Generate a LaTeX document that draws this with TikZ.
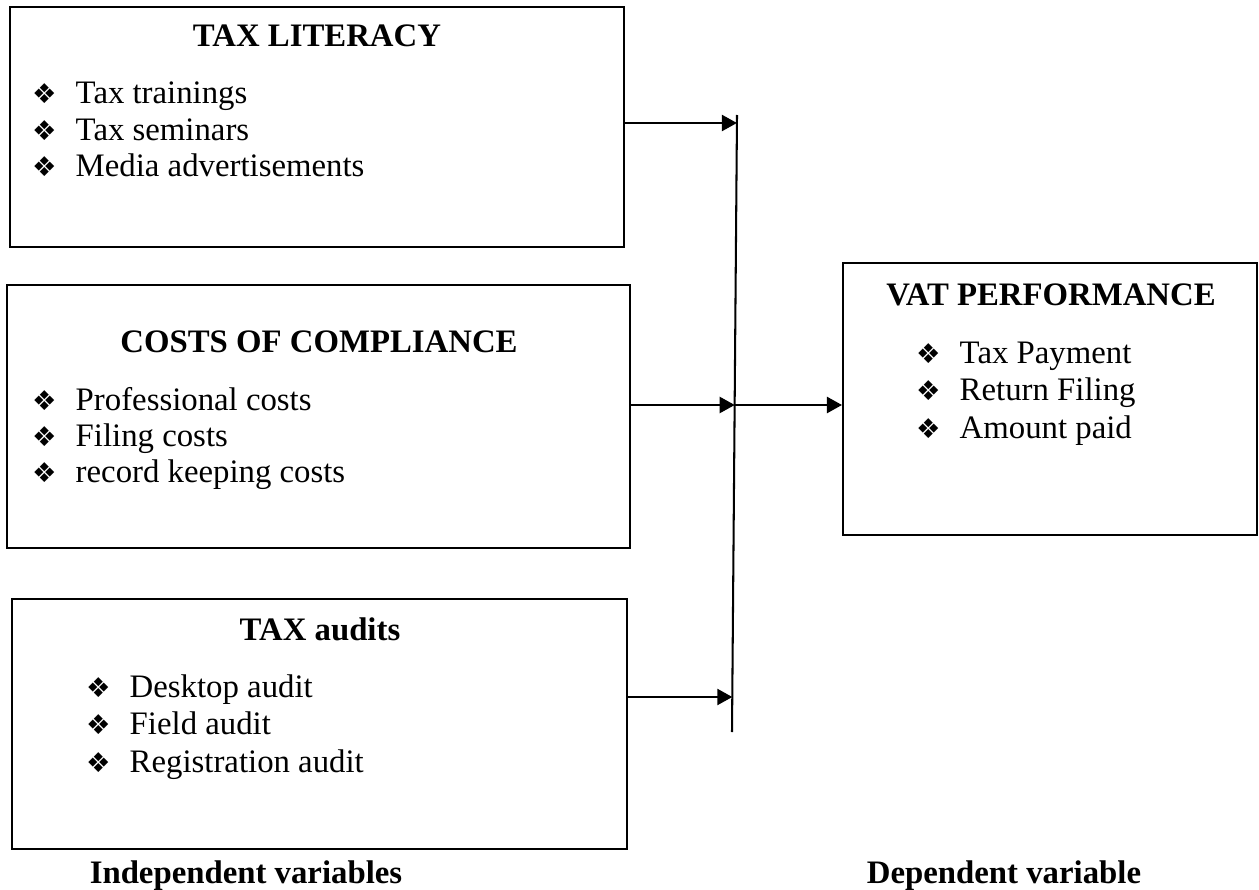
\documentclass[tikz,border=0pt]{standalone}
\usepackage{fontspec}
\setmainfont{Liberation Serif}
\newfontfamily\dingfont{DejaVu Sans}
\usetikzlibrary{arrows.meta,fit}
\newcommand{\diam}{\makebox[16pt][l]{\fontsize{10}{12}\dingfont ❖}}
\tikzstyle{var box}=[
        draw = black,
        line width = 0.75pt,
        inner sep = 0pt
    ]
\tikzstyle{heading}=[
    font = \bfseries\fontsize{12}{14}\selectfont,
    inner sep = 0pt,
    anchor = base
]
\tikzstyle{entry}=[
    font = \fontsize{12}{14}\selectfont,
    inner sep = 0pt,
    anchor = base west
]

\begin{document}
\begin{tikzpicture}[x=0.366pt, y=-0.366pt, line width=0.75pt, conn/.style = {-{Triangle[length=5.5pt,width=5.9pt]}}]
        \useasboundingbox (0,0) rectangle (1259,890);

        \node[var box, fit={(10,7) (624,247)}] (lit) {};
        \node[heading] (littitle) at (317,47) {TAX LITERACY};
        \node[entry] (lit1) at (31,104) {\diam Tax trainings};
        \node[entry] (lit2) at (31,141) {\diam Tax seminars};
        \node[entry] (lit3) at (31,177) {\diam Media advertisements};

        \node[var box, fit={(7,285) (630,548)}] (comp) {};
        \node[heading] (comptitle) at (319,352) {COSTS OF COMPLIANCE};
        \node[entry] (comp1) at (31,410) {\diam Professional costs};
        \node[entry] (comp2) at (31,446) {\diam Filing costs};
        \node[entry] (comp3) at (31,482) {\diam record keeping costs};

        \node[var box, fit={(12,599) (627,849)}] (aud) {};
        \node[heading] (audtitle) at (320,640) {TAX audits};
        \node[entry] (aud1) at (85,697) {\diam Desktop audit};
        \node[entry] (aud2) at (85,734) {\diam Field audit};
        \node[entry] (aud3) at (85,772) {\diam Registration audit};

        \node[var box, fit={(843,263) (1257,535)}] (vat) {};
        \node[heading] (vattitle) at (1051,305) {VAT PERFORMANCE};
        \node[entry] (vat1) at (915,363) {\diam Tax Payment};
        \node[entry] (vat2) at (915,400) {\diam Return Filing};
        \node[entry] (vat3) at (915,438) {\diam Amount paid};

        \node[heading] (indep) at (246,883) {Independent variables};
        \node[heading] (dep) at (1004,883) {Dependent variable};

        \coordinate (vtop) at (737,115);
        \coordinate (vbot) at (732,732);
        \coordinate (j1) at (736.9,123);
        \coordinate (j2) at (734.7,405);
        \coordinate (j3) at (732.3,697);

        \draw (vtop) -- (vbot);
        \draw[conn] (lit.east |- j1) -- (j1);
        \draw[conn] (comp.east |- j2) -- (j2);
        \draw[conn] (aud.east |- j3) -- (j3);
        \draw[conn] (j2) -- (vat.west |- j2);

    \end{tikzpicture}
\end{document}
